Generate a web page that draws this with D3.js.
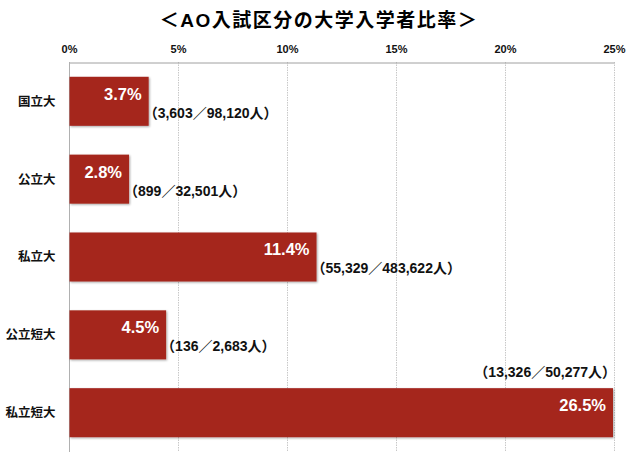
<!DOCTYPE html>
<html>
<head>
<meta charset="utf-8">
<script src="https://cdn.jsdelivr.net/npm/d3@7"></script>
<style>
  body { margin: 0; background: #fff; }
  text { font-family: "Liberation Sans", "Noto Sans CJK JP", sans-serif; font-weight: bold; }
</style>
</head>
<body>
<script>
'use strict';

var categories = ['国立大', '公立大', '私立大', '公立短大', '私立短大'];
var rates = [3.7, 2.8, 11.4, 4.5, 26.5];
var entrants = [3603, 899, 55329, 136, 13326];
var totals = [98120, 32501, 483622, 2683, 50277];
var tickValues = [0, 5, 10, 15, 20, 25];
var title = '＜AO入試区分の大学入学者比率＞';

var width = 640, height = 465;
var comma = d3.format(',');

var svg = d3.select('body').append('svg')
  .attr('width', width)
  .attr('height', height);

var defs = svg.append('defs');
defs.append('filter')
  .attr('id', 'shadow')
  .attr('x', '-5%').attr('y', '-10%')
  .attr('width', '110%').attr('height', '130%')
  .append('feDropShadow')
  .attr('dx', 1).attr('dy', 1)
  .attr('stdDeviation', 0.8)
  .attr('flood-color', '#000')
  .attr('flood-opacity', 0.35);

var x = d3.scaleLinear().domain([0, 25]).range([69, 614]).clamp(true);
var y = d3.scaleBand().domain(categories).range([62, 452])
  .paddingInner(0.37).paddingOuter(0.19);

// title
svg.append('text')
  .attr('x', 319)
  .attr('y', 27)
  .attr('text-anchor', 'middle')
  .style('font-size', '19px')
  .style('letter-spacing', '1.5px')
  .text(title);

// grid
svg.append('g')
  .selectAll('line')
  .data(tickValues.slice(1))
  .enter()
  .append('line')
  .attr('x1', function (d) { return x(d) + 0.5; })
  .attr('x2', function (d) { return x(d) + 0.5; })
  .attr('y1', 62)
  .attr('y2', 452)
  .attr('stroke', '#c8c8c8')
  .attr('stroke-dasharray', '1.5,1');

// top axis
var axis = svg.append('g')
  .attr('transform', 'translate(0,62.5)')
  .call(d3.axisTop(x).tickValues(tickValues).tickSize(0).tickPadding(10)
    .tickFormat(function (d) { return d + '%'; }));
axis.select('.domain').attr('stroke', '#a0a0a0');
axis.selectAll('text')
  .style('font-size', '11px')
  .attr('fill', '#111');

// left axis
var yAxis = svg.append('g')
  .attr('transform', 'translate(69.5,0)')
  .call(d3.axisLeft(y).tickSize(0).tickPadding(14));
yAxis.select('.domain').remove();
svg.append('line')
  .attr('x1', 69.5).attr('x2', 69.5)
  .attr('y1', 62).attr('y2', 452)
  .attr('stroke', '#b0b0b0');
yAxis.selectAll('text')
  .style('font-size', '12.5px')
  .attr('fill', '#111')
  .attr('dy', '0.35em');

// bars
var rows = categories.map(function (c, i) {
  return { cat: c, rate: rates[i], n: entrants[i], total: totals[i] };
});

var g = svg.append('g');

g.selectAll('rect')
  .data(rows)
  .enter()
  .append('rect')
  .attr('x', x(0) + 0.5)
  .attr('y', function (d) { return y(d.cat); })
  .attr('width', function (d) { return x(d.rate) - x(0) - 1.5; })
  .attr('height', y.bandwidth())
  .attr('fill', '#a5281f')
  .attr('filter', 'url(#shadow)');

g.selectAll('text.val')
  .data(rows)
  .enter()
  .append('text')
  .attr('class', 'val')
  .attr('x', function (d) { return x(d.rate) - 8; })
  .attr('y', function (d) { return y(d.cat) + 23; })
  .attr('text-anchor', 'end')
  .attr('fill', '#fff')
  .style('font-size', '16.5px')
  .text(function (d) { return d.rate.toFixed(1) + '%'; });

g.selectAll('text.note')
  .data(rows)
  .enter()
  .append('text')
  .attr('class', 'note')
  .attr('x', function (d) { return d.rate > 25 ? x(d.rate) + 2 : x(d.rate) - 6; })
  .attr('y', function (d) { return d.rate > 25 ? y(d.cat) - 11 : y(d.cat) + 41; })
  .attr('text-anchor', function (d) { return d.rate > 25 ? 'end' : 'start'; })
  .attr('fill', '#111')
  .style('font-size', '14px')
  .text(function (d) { return '（' + comma(d.n) + '／' + comma(d.total) + '人）'; });
</script>
</body>
</html>
